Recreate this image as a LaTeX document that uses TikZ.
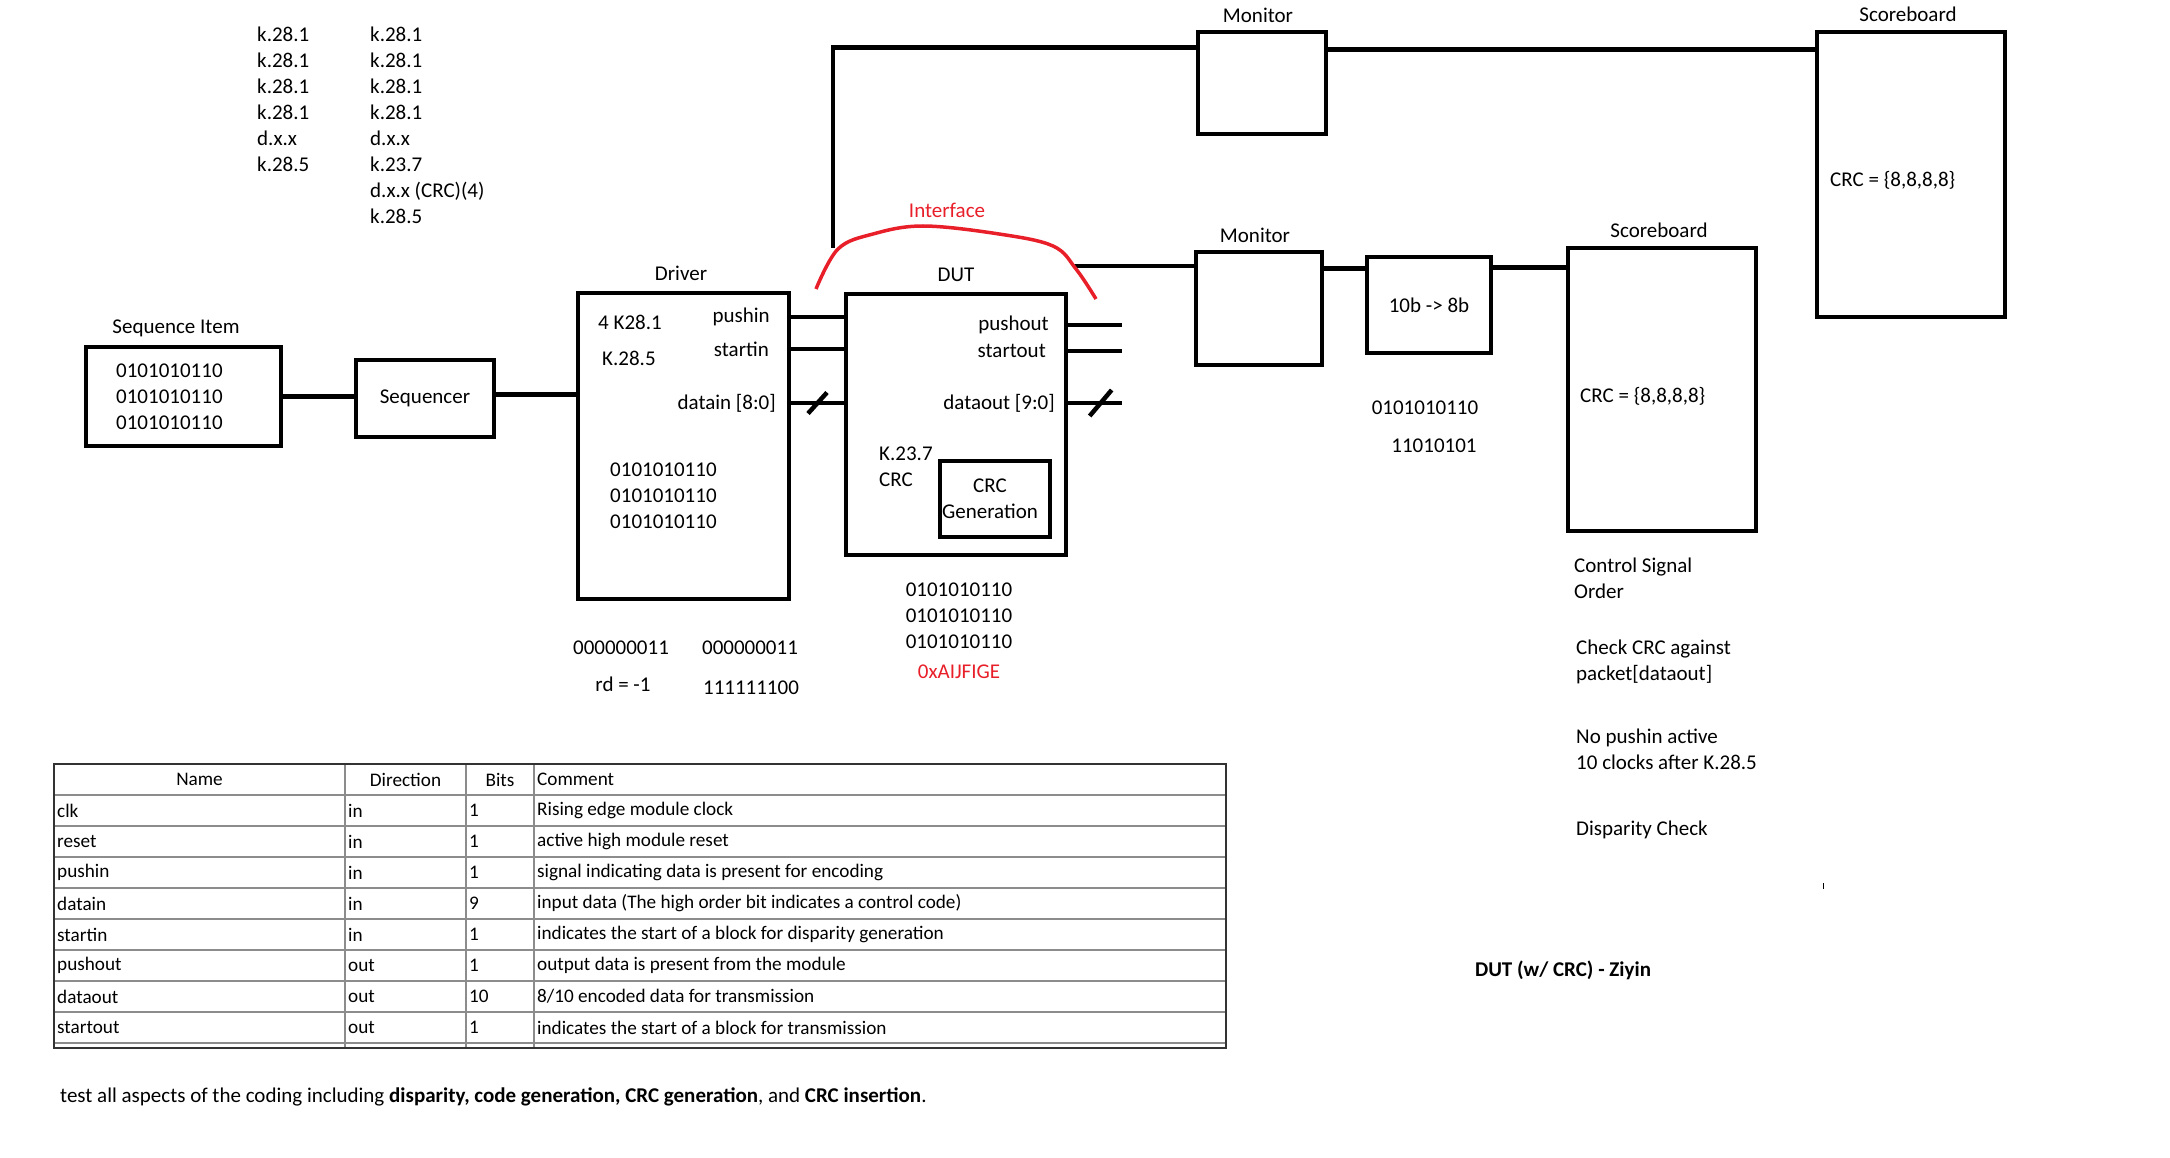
\documentclass[tikz,border=0pt]{standalone}
\usepackage{fontspec}
\setmainfont{Carlito}
\definecolor{inkred}{RGB}{232,30,40}

\begin{document}
\begin{tikzpicture}[x=1pt,y=-1pt,
    txt/.style={inner sep=0pt,font=\fontsize{21}{26}\selectfont},
    box/.style={draw,line width=4.5pt,inner sep=0pt,align=center,font=\fontsize{21}{26}\selectfont},
    wire/.style={line width=4.5pt},
    iface/.style={draw=inkred,line width=3.5pt},
    tbl/.style={inner sep=0pt,font=\fontsize{19.2}{22}\selectfont},
    tblrule/.style={draw=black!45,line width=1.2pt},
    tblframe/.style={draw=black!80,line width=1.8pt}]
  \useasboundingbox (0,0) rectangle (2170,1158);

  % symbol lists
  \node[txt,align=left,anchor=west] (seqlist) at (257,99.7) {k.28.1\\k.28.1\\k.28.1\\k.28.1\\d.x.x\\k.28.5};
  \node[txt,align=left,anchor=west] (enclist) at (370,125.3) {k.28.1\\k.28.1\\k.28.1\\k.28.1\\d.x.x\\k.23.7\\d.x.x (CRC)(4)\\k.28.5};

  % stimulus side
  \node[txt] (seqitemlbl) at (176,328) {Sequence Item};
  \node[box,minimum width=195pt,minimum height=99pt] (seqitem) at (183.5,396.5) {};
  \node[txt,align=left,anchor=west] (seqbits) at (116,396.5) {0101010110\\0101010110\\0101010110};
  \node[box,minimum width=138pt,minimum height=77pt] (seqr) at (425,398.5) {Sequencer};

  \node[txt] (drvlbl) at (681,273) {Driver};
  \node[box,minimum width=211pt,minimum height=306pt] (drv) at (683.5,446) {};
  \node[txt,anchor=west] (k281) at (598,322) {4 K28.1};
  \node[txt,anchor=west] (k285) at (602,358) {K.28.5};
  \node[txt,anchor=east] (pushin) at (770,317) {pushin};
  \node[txt,anchor=east] (startin) at (769,349) {startin};
  \node[txt,anchor=east] (datain) at (776,403) {datain [8:0]};
  \node[txt,align=left,anchor=west] (drvbits) at (610,496) {0101010110\\0101010110\\0101010110};
  \node[txt] (k281bits) at (621,648) {000000011};
  \node[txt] (k285bits) at (750,648) {000000011};
  \node[txt] (rdval) at (623,684) {rd = -1};
  \node[txt] (k285neg) at (751,688) {111111100};

  % DUT
  \node[txt] (dutlbl) at (956,275) {DUT};
  \node[box,minimum width=220pt,minimum height=261pt] (dut) at (956,424.5) {};
  \node[txt,anchor=east] (pushout) at (1049,325) {pushout};
  \node[txt,anchor=east] (startout) at (1046,351) {startout};
  \node[txt,anchor=east] (dataout) at (1055,403) {dataout [9:0]};
  \node[txt,align=left,anchor=west] (crcnote) at (879,467) {K.23.7\\CRC};
  \node[box,minimum width=110pt,minimum height=76pt] (crcgen) at (995,499) {};
  \node[txt,align=center] (crcgentxt) at (990,499) {CRC\\Generation};
  \node[txt,align=center] (dutbits) at (959,615.5) {0101010110\\0101010110\\0101010110};
  \node[txt,text=inkred] (hexval) at (959,672) {0xAIJFIGE};
  \node[txt,text=inkred] (ifacelbl) at (947,210) {Interface};

  % checking side
  \node[txt] (montoplbl) at (1258,15) {Monitor};
  \node[box,minimum width=128pt,minimum height=102pt] (montop) at (1262,83) {};
  \node[txt] (sbtoplbl) at (1908,14) {Scoreboard};
  \node[box,minimum width=188pt,minimum height=285pt] (sbtop) at (1911,174.5) {};
  \node[txt,anchor=west] (sbtopcrc) at (1830,180) {CRC = \{8,8,8,8\}};

  \node[txt] (monmidlbl) at (1255,235) {Monitor};
  \node[box,minimum width=126pt,minimum height=113pt] (monmid) at (1259,308.5) {};
  \node[box,minimum width=124pt,minimum height=96pt] (conv) at (1429,305) {10b -> 8b};
  \node[txt] (convbits) at (1425,408) {0101010110};
  \node[txt] (convbyte) at (1434,446) {11010101};
  \node[txt] (sbmidlbl) at (1659,230) {Scoreboard};
  \node[box,minimum width=188pt,minimum height=283pt] (sbmid) at (1662,389.5) {};
  \node[txt,anchor=west] (sbmidcrc) at (1580,396) {CRC = \{8,8,8,8\}};

  \node[txt,align=left,anchor=west] (chk1) at (1574,578) {Control Signal\\Order};
  \node[txt,align=left,anchor=west] (chk2) at (1576,662) {Check CRC against\\packet[dataout]};
  \node[txt,align=left,anchor=west] (chk3) at (1576,749.5) {No pushin active\\10 clocks after K.28.5};
  \node[txt,anchor=west] (chk4) at (1576,830) {Disparity Check};
  \node[inner sep=0pt,font=\fontsize{21}{25}\selectfont\bfseries] (title) at (1563,970) {DUT (w/ CRC) - Ziyin};

  % connectors
  \draw[wire] (seqitem.east) -- (seqitem.east -| seqr.west);
  \draw[wire] ([yshift=4pt]seqr.east) -- ([yshift=4pt]seqr.east -| drv.west);
  \draw[wire] (pushin -| drv.east) -- (pushin -| dut.west);
  \draw[wire] (startin -| drv.east) -- (startin -| dut.west);
  \draw[wire] (datain -| drv.east) -- (datain -| dut.west) coordinate[pos=0.5] (dslash);
  \draw[wire] (dslash) ++(-9.5,10.5) -- ++(19,-21);
  \draw[wire] (pushout -| dut.east) -- ++(54,0);
  \draw[wire] (startout -| dut.east) -- ++(54,0);
  \draw[wire] (dataout -| dut.east) -- ++(54,0) coordinate[pos=0.6] (qslash);
  \draw[wire] (qslash) ++(-11,13) -- ++(22,-26);

  \coordinate (tap) at (833,248);
  \coordinate (arcend) at (1074,266);
  \draw[wire] (tap) |- ([yshift=-18pt]montop.north west);
  \draw[wire] ([yshift=-20pt]montop.north east) -- ([yshift=-20pt]montop.north east -| sbtop.west);
  \draw[wire] (arcend) -- (arcend -| monmid.west);
  \draw[wire] ([yshift=-19pt]monmid.north east) -- ([yshift=-19pt]monmid.north east -| conv.west);
  \draw[wire] ([yshift=-13pt]conv.north east) -- ([yshift=-13pt]conv.north east -| sbmid.west);

  \draw[iface] plot[smooth,tension=0.6] coordinates {(816,289) (838,249) (873,234) (923,226) (999,234) (1053,246) (1076,269) (1096,299)};
  \draw[line width=1pt] (1823,883) -- (1823,889);

  % port table
  \foreach \y in {795,826,...,1043}
    \draw[tblrule] (54,\y) -- (1226,\y);
  \foreach \x in {345,466,534}
    \draw[tblrule] (\x,764) -- (\x,1048);
  \draw[tblframe] (54,764) rectangle (1226,1048);
  \node[tbl] (hname) at (199.5,779.5) {Name};
  \node[tbl] (hdir) at (405.5,779.5) {Direction};
  \node[tbl] (hbits) at (500,779.5) {Bits};
  \node[tbl,anchor=west] (hcmt) at (537,779.5) {Comment};
  \foreach \nm/\dir/\bits/\cmt [count=\i] in {
      clk/in/1/Rising edge module clock,
      reset/in/1/active high module reset,
      pushin/in/1/signal indicating data is present for encoding,
      datain/in/9/input data (The high order bit indicates a control code),
      startin/in/1/indicates the start of a block for disparity generation,
      pushout/out/1/output data is present from the module,
      dataout/out/10/{8/10 encoded data for transmission},
      startout/out/1/indicates the start of a block for transmission}{
    \pgfmathsetmacro{\rowy}{779.5+31*\i}
    \node[tbl,anchor=west] (name\i) at (57,\rowy) {\nm};
    \node[tbl,anchor=west] (dir\i) at (348,\rowy) {\dir};
    \node[tbl,anchor=west] (bits\i) at (469,\rowy) {\bits};
    \node[tbl,anchor=west] (cmt\i) at (537,\rowy) {\cmt};
  }

  \node[inner sep=0pt,anchor=west,font=\fontsize{21}{25}\selectfont] (goal) at (60,1097) {test all aspects of the coding including \textbf{disparity, code generation, CRC generation}, and \textbf{CRC insertion}.};
\end{tikzpicture}
\end{document}
